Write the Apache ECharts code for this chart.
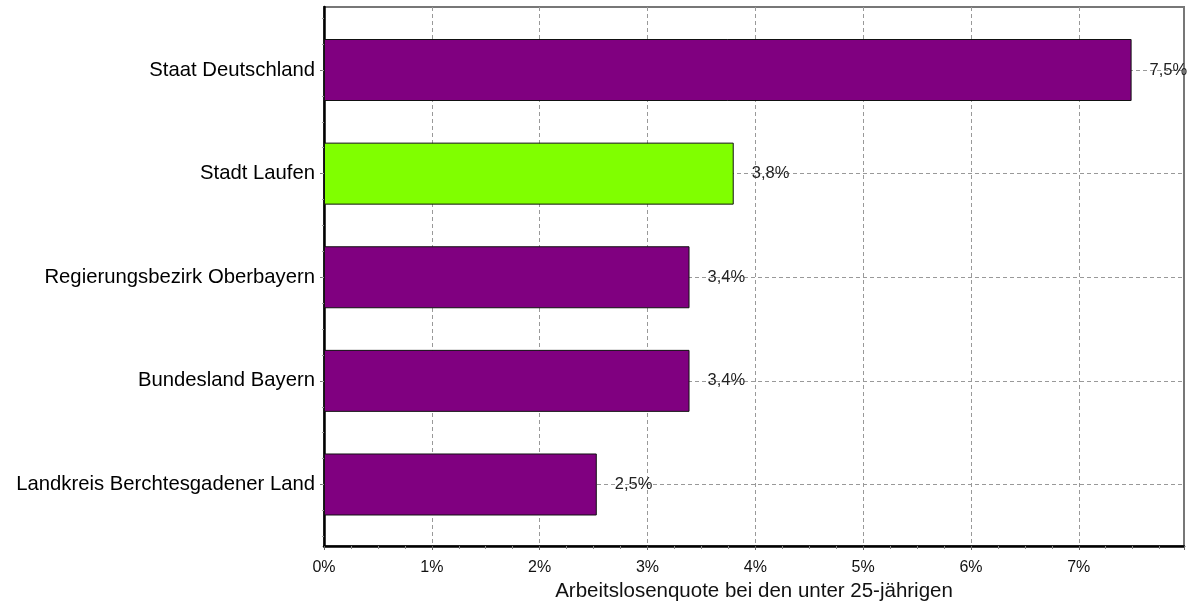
<!DOCTYPE html>
<html>
<head>
<meta charset="utf-8">
<script src="https://cdn.jsdelivr.net/npm/echarts@6/dist/echarts.min.js"></script>
<style>
html,body{margin:0;padding:0;background:#fff;}
#c{width:1197px;height:601px;}
</style>
</head>
<body>
<div id="c"></div>
<script>
const categories = ['Staat Deutschland', 'Stadt Laufen', 'Regierungsbezirk Oberbayern', 'Bundesland Bayern', 'Landkreis Berchtesgadener Land'];
const values = [7.49, 3.8, 3.39, 3.39, 2.53];
const valueLabels = ['7,5%', '3,8%', '3,4%', '3,4%', '2,5%'];
const barColors = ['#800080', '#80FF00', '#800080', '#800080', '#800080'];
const xTickLabels = ['0%', '1%', '2%', '3%', '4%', '5%', '6%', '7%'];
const axisTitle = 'Arbeitslosenquote bei den unter 25-jährigen';

const FONT = 'Liberation Sans, Arial, sans-serif';
const chart = echarts.init(document.getElementById('c'), null, {renderer: 'canvas'});

const option = {
  backgroundColor: '#ffffff',
  animation: false,
  grid: [
    {left: 324, right: 13, top: 7, bottom: 55, show: true, borderColor: '#777', borderWidth: 2, backgroundColor: 'transparent', outerBoundsMode: 'none', containLabel: false},
    {left: 324, right: 13, top: 18.2, bottom: 64.7, outerBoundsMode: 'none', containLabel: false},
    {left: 324, right: 13, top: 70, bottom: 116.5, outerBoundsMode: 'none', containLabel: false}
  ],
  xAxis: [
    {
      type: 'value', gridIndex: 0, min: 0, max: 7.976, interval: 1,
      name: axisTitle, nameLocation: 'middle', nameGap: 25,
      nameTextStyle: {fontFamily: FONT, fontSize: 20.5, color: '#111'},
      axisLine: {show: true, lineStyle: {color: '#000', width: 2.5}},
      axisTick: {show: true, length: 4, lineStyle: {color: '#666'}},
      minorTick: {show: true, splitNumber: 4, length: 3, lineStyle: {color: '#888'}},
      axisLabel: {
        fontFamily: FONT, fontSize: 16, color: '#111', margin: 14,
        formatter: function (v) { return Number.isInteger(v) ? (xTickLabels[v] || '') : ''; }
      },
      splitLine: {show: true, showMinLine: false, showMaxLine: false, lineStyle: {color: '#999', type: [4, 3], width: 1}}
    },
    {type: 'value', gridIndex: 1, min: 0, max: 7.976, show: false, splitLine: {show: false}},
    {type: 'value', gridIndex: 2, min: 0, max: 7.976, show: false, splitLine: {show: false}}
  ],
  yAxis: [
    {
      type: 'value', gridIndex: 0, min: 0, max: 1, position: 'left',
      axisLine: {show: true, lineStyle: {color: '#000', width: 2.5}},
      axisTick: {show: false}, axisLabel: {show: false}, splitLine: {show: false}
    },
    {
      type: 'category', gridIndex: 1, inverse: true, data: categories, position: 'left',
      axisLine: {show: false},
      axisTick: {show: true, alignWithLabel: true, length: 4, lineStyle: {color: '#777'}},
      axisLabel: {fontFamily: FONT, fontSize: 20.3, color: '#000', margin: 9},
      splitLine: {show: false}
    },
    {
      type: 'value', gridIndex: 1, inverse: true, min: 0, max: 5, interval: 0.25, position: 'left', offset: 0,
      axisLine: {show: false},
      axisTick: {show: true, length: 2, lineStyle: {color: '#999'}},
      axisLabel: {show: false}, splitLine: {show: false}
    },
    {
      type: 'value', gridIndex: 2, inverse: true, min: 0, max: 4, interval: 1, position: 'left',
      axisLine: {show: false}, axisTick: {show: false}, axisLabel: {show: false},
      splitLine: {show: true, lineStyle: {color: '#999', type: [4, 3], width: 1}}
    }
  ],
  series: [
    {
      type: 'bar', xAxisIndex: 1, yAxisIndex: 1, barWidth: 62, z: 3,
      data: values.map(function (v, i) {
        return {value: v, itemStyle: {color: barColors[i], borderColor: '#111', borderWidth: 1}};
      }),
      label: {
        show: true, position: 'right', distance: 18,
        fontFamily: FONT, fontSize: 16.5, color: '#222',
        formatter: function (p) { return valueLabels[p.dataIndex]; }
      }
    }
  ]
};
chart.setOption(option);
</script>
</body>
</html>
